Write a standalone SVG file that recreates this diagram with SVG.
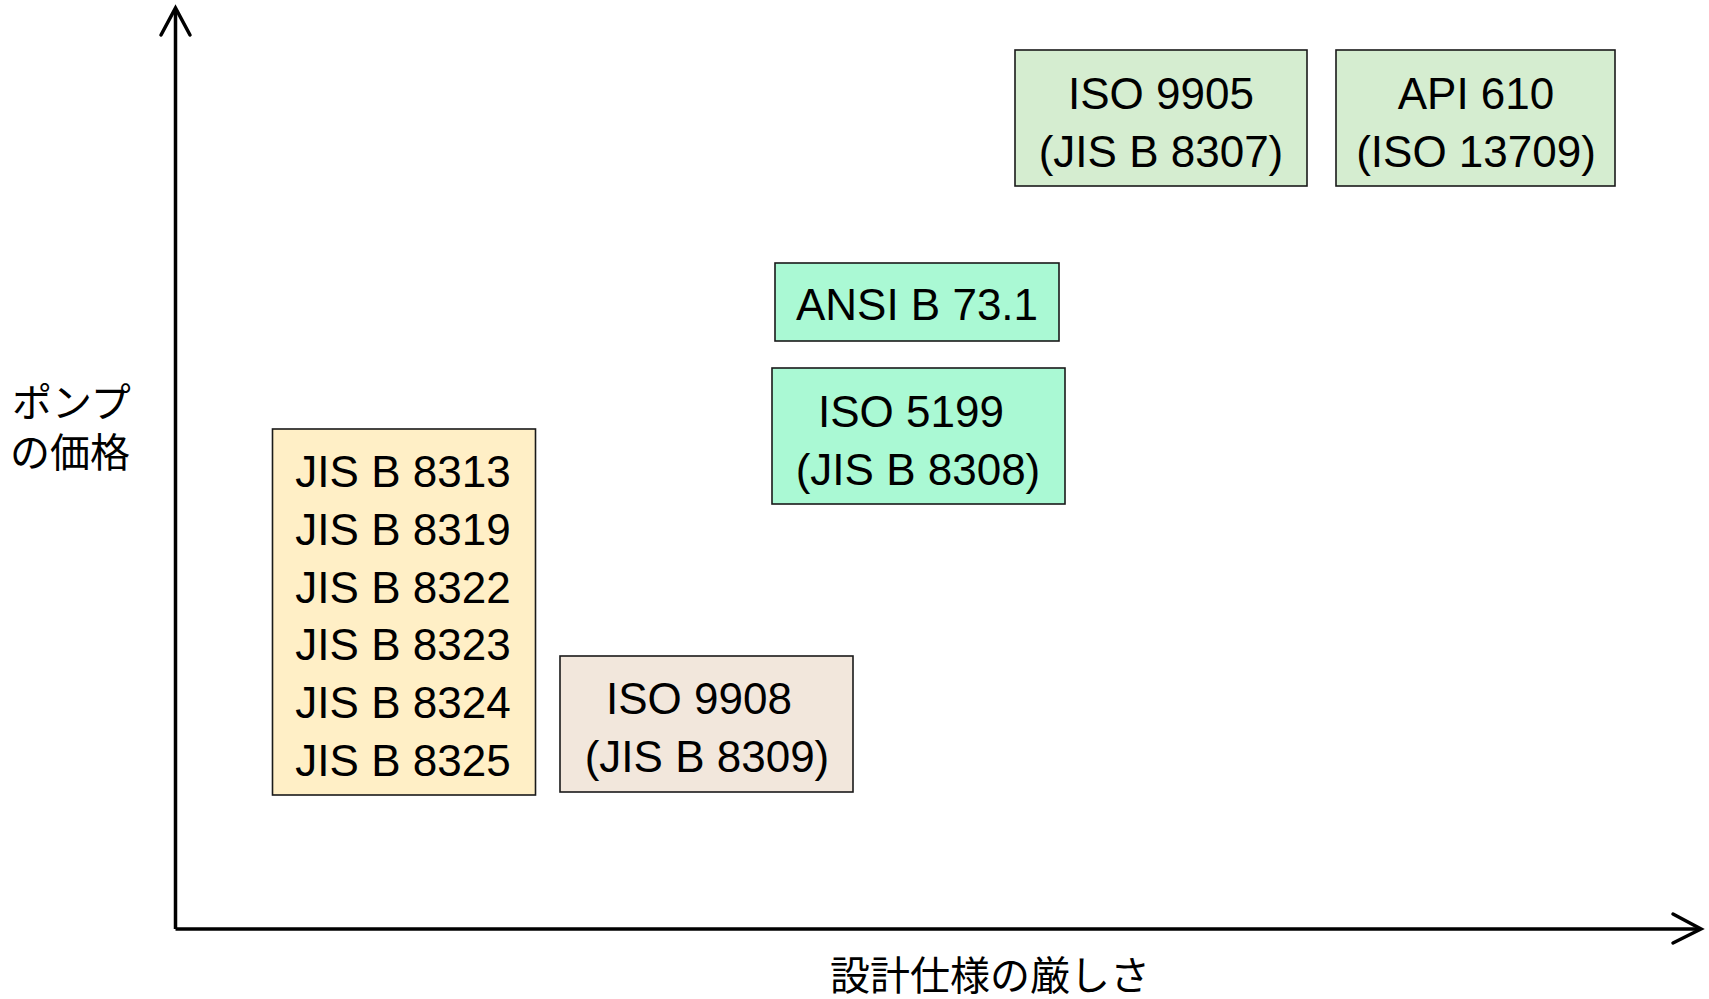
<svg xmlns="http://www.w3.org/2000/svg" width="1709" height="999" viewBox="0 0 1709 999">
  <style>
    .box { stroke: #1a1a1a; stroke-width: 1.6; }
    .t { font-family: "Liberation Sans", Arial, sans-serif; font-size: 44px; fill: #000; text-anchor: middle; }
    .jp { font-family: "Liberation Sans", "Noto Sans CJK JP", sans-serif; font-size: 40px; fill: #000; }
    .axis { stroke: #000; stroke-width: 3.5; fill: none; }
    .head { stroke: #000; stroke-width: 3.5; fill: none; stroke-linecap: round; stroke-linejoin: miter; }
  </style>
  <rect width="1709" height="999" fill="#ffffff"/>

  <g id="axes">
    <line class="axis" x1="175.5" y1="929" x2="175.5" y2="9"/>
    <polyline class="head" points="161,35 175.5,8 190,35"/>
    <line class="axis" x1="175.5" y1="929" x2="1700" y2="929"/>
    <polyline class="head" points="1673,914 1701,929 1673,943"/>
  </g>

  <g id="label-y">
    <text class="jp" x="12" y="417">ポンプ</text>
    <text class="jp" x="10" y="467">の価格</text>
  </g>
  <g id="label-x">
    <text class="jp" x="990" y="990" text-anchor="middle">設計仕様の厳しさ</text>
  </g>

  <g id="node-iso9905">
    <rect class="box" x="1015" y="50" width="292" height="136" fill="#D5EDD0"/>
    <text class="t" x="1161" y="109">ISO 9905</text>
    <text class="t" x="1161" y="167">(JIS B 8307)</text>
  </g>
  <g id="node-api610">
    <rect class="box" x="1336" y="50" width="279" height="136" fill="#D5EDD0"/>
    <text class="t" x="1476" y="109">API 610</text>
    <text class="t" x="1476" y="167">(ISO 13709)</text>
  </g>
  <g id="node-ansi">
    <rect class="box" x="775" y="263" width="284" height="78" fill="#AAF9D4"/>
    <text class="t" x="917" y="320">ANSI B 73.1</text>
  </g>
  <g id="node-iso5199">
    <rect class="box" x="772" y="368" width="293" height="136" fill="#AAF9D4"/>
    <text class="t" x="911" y="427">ISO 5199</text>
    <text class="t" x="918" y="485">(JIS B 8308)</text>
  </g>
  <g id="node-jis">
    <rect class="box" x="272.5" y="429" width="263" height="366" fill="#FFEFC6"/>
    <text class="t" x="403" y="487">JIS B 8313</text>
    <text class="t" x="403" y="545">JIS B 8319</text>
    <text class="t" x="403" y="603">JIS B 8322</text>
    <text class="t" x="403" y="660">JIS B 8323</text>
    <text class="t" x="403" y="718">JIS B 8324</text>
    <text class="t" x="403" y="776">JIS B 8325</text>
  </g>
  <g id="node-iso9908">
    <rect class="box" x="560" y="656" width="293" height="136" fill="#F2E7DC"/>
    <text class="t" x="699" y="714">ISO 9908</text>
    <text class="t" x="707" y="772">(JIS B 8309)</text>
  </g>
</svg>
